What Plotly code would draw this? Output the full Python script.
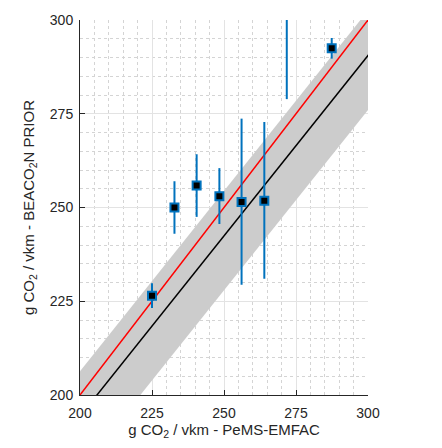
import numpy as np
import plotly.graph_objects as go

# data
pems_emfac = [225.0, 232.8, 240.5, 248.4, 256.1, 264.0, 271.8, 287.4]
beacon_prior = [226.5, 250.0, 255.9, 253.0, 251.5, 251.8, 303.0, 292.5]
err_plus = [3.3, 7.0, 8.3, 7.5, 22.2, 21.0, 24.1, 2.7]
err_minus = [3.3, 7.0, 8.4, 7.4, 22.1, 20.8, 24.1, 2.8]

fit_slope = 0.962
fit_intercept = 1.93
band_upper_offset = 12.0
band_lower_offset = 14.5

line_x = np.array([190.0, 310.0])
fit_y = fit_slope * line_x + fit_intercept

blue = "#0072BD"
font_family = "Liberation Sans, Arial, sans-serif"

fig = go.Figure()
fig.add_trace(go.Scatter(x=line_x, y=fit_y - band_lower_offset, mode="lines",
                         line=dict(width=0, color="rgba(0,0,0,0)"), showlegend=False, hoverinfo="skip"))
fig.add_trace(go.Scatter(x=line_x, y=fit_y + band_upper_offset, mode="lines",
                         line=dict(width=0, color="rgba(0,0,0,0)"), fill="tonexty",
                         fillcolor="rgb(204,204,204)", showlegend=False, hoverinfo="skip"))
fig.add_trace(go.Scatter(x=line_x, y=line_x, mode="lines", line=dict(color="#FF0000", width=1.5),
                         showlegend=False))
fig.add_trace(go.Scatter(x=line_x, y=fit_y, mode="lines", line=dict(color="#000000", width=1.5),
                         showlegend=False))
fig.add_trace(go.Scatter(x=pems_emfac, y=beacon_prior, mode="markers",
                         error_y=dict(type="data", symmetric=False, array=err_plus, arrayminus=err_minus,
                                      color=blue, thickness=2, width=0),
                         marker=dict(symbol="square", size=8, color="#000000",
                                     line=dict(color=blue, width=2)),
                         showlegend=False))

axis_common = dict(range=[200, 300], dtick=25, tick0=200, showgrid=True, gridcolor="#e3e3e3", gridwidth=1,
                   showline=True, linecolor="#262626", linewidth=1, ticks="inside", ticklen=5,
                   tickcolor="#262626", zeroline=False, mirror=False,
                   tickfont=dict(family=font_family, size=14, color="#262626"),
                   minor=dict(dtick=5, showgrid=True, gridcolor="#d4d4d4", griddash="dot", gridwidth=1))

fig.update_xaxes(**axis_common, ticklabelstandoff=5,
                 title=dict(text="g CO<sub>2</sub> / vkm - PeMS-EMFAC", standoff=2,
                            font=dict(family=font_family, size=15, color="#262626")))
fig.update_yaxes(**axis_common, ticklabelstandoff=3,
                 title=dict(text="g CO<sub>2</sub> / vkm - BEACO<sub>2</sub>N PRIOR", standoff=11,
                            font=dict(family=font_family, size=15, color="#262626")))

fig.update_layout(width=442, height=448, margin=dict(l=80, r=74, t=15, b=53),
                  plot_bgcolor="white", paper_bgcolor="white")

fig.write_html("out.html")
